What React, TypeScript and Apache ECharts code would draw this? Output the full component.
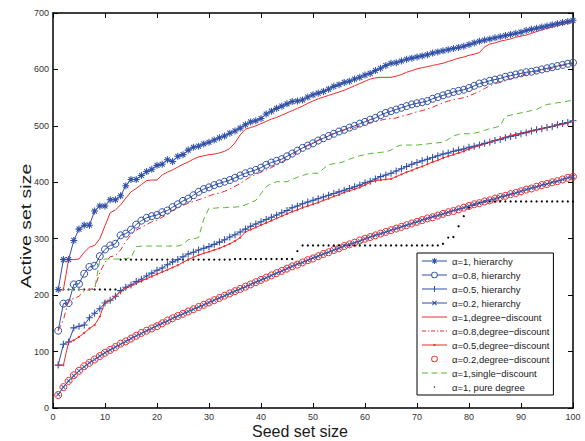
import React, { useEffect, useRef } from "react";
import * as echarts from "echarts";

// ---------- data ----------
const seeds = Array.from({ length: 100 }, (_, i) => i + 1);

const seriesNames = [
  "α=1, hierarchy",
  "α=0.8, hierarchy",
  "α=0.5, hierarchy",
  "α=0.2, hierarchy",
  "α=1,degree−discount",
  "α=0.8,degree−discount",
  "α=0.5,degree−discount",
  "α=0.2,degree−discount",
  "α=1,single−discount",
  "α=1, pure degree",
];

const xTicks = [0, 10, 20, 30, 40, 50, 60, 70, 80, 90, 100];
const yTicks = [0, 100, 200, 300, 400, 500, 600, 700];

const alpha1Hier = [
  210, 263, 263, 297, 317, 324, 324, 349, 358, 358,
  369, 369, 376, 394, 405, 405, 412, 419, 423, 430,
  432, 440, 437, 446, 449, 457, 462, 464, 468, 471,
  475, 479, 482, 487, 491, 496, 502, 507, 509, 513,
  521, 526, 531, 535, 539, 543, 544, 546, 551, 555,
  558, 561, 565, 570, 573, 577, 579, 583, 586, 590,
  593, 598, 602, 607, 611, 612, 615, 618, 620, 622,
  624, 626, 629, 631, 633, 635, 637, 639, 641, 644,
  647, 650, 652, 654, 656, 658, 660, 662, 664, 666,
  669, 671, 673, 675, 677, 679, 681, 683, 685, 687,
];

const alpha08Hier = [
  137, 185, 186, 219, 220, 238, 250, 252, 269, 281,
  288, 291, 306, 309, 316, 325, 332, 337, 340, 342,
  347, 350, 356, 361, 367, 371, 377, 383, 388, 391,
  395, 398, 401, 404, 408, 412, 416, 419, 422, 426,
  431, 435, 438, 441, 446, 451, 456, 461, 465, 469,
  474, 478, 482, 486, 490, 493, 497, 500, 504, 507,
  511, 514, 519, 523, 526, 529, 532, 535, 538, 540,
  542, 544, 548, 551, 554, 557, 560, 562, 564, 567,
  571, 575, 577, 580, 582, 584, 587, 589, 591, 593,
  595, 596, 598, 600, 602, 604, 606, 608, 610, 612,
];

const alpha05Hier = [
  76, 113, 117, 142, 145, 147, 160, 168, 176, 186,
  191, 198, 208, 214, 218, 224, 228, 234, 239, 244,
  248, 254, 259, 263, 268, 273, 276, 280, 283, 286,
  290, 294, 298, 303, 307, 312, 317, 322, 326, 330,
  334, 338, 342, 346, 350, 355, 358, 362, 365, 368,
  371, 374, 377, 380, 383, 386, 389, 392, 395, 399,
  402, 406, 410, 413, 416, 420, 424, 428, 432, 435,
  438, 441, 444, 447, 450, 452, 455, 457, 459, 462,
  464, 466, 469, 471, 474, 476, 479, 481, 483, 486,
  488, 491, 493, 495, 497, 499, 502, 504, 506, 509,
];

const alpha02Hier = [
  24, 37, 48, 57, 66, 73, 80, 86, 92, 98,
  103, 108, 113, 118, 123, 128, 132, 137, 141, 146,
  150, 154, 159, 163, 167, 171, 175, 179, 183, 187,
  191, 195, 199, 203, 207, 211, 215, 219, 223, 227,
  231, 235, 239, 243, 247, 251, 255, 258, 262, 266,
  269, 273, 276, 280, 283, 287, 290, 293, 296, 300,
  303, 306, 309, 312, 315, 318, 321, 324, 327, 330,
  333, 336, 339, 341, 344, 347, 350, 352, 355, 358,
  361, 363, 366, 368, 371, 374, 376, 379, 381, 384,
  387, 390, 392, 395, 397, 400, 402, 405, 408, 410,
];

const alpha1DD = [
  208, 210, 263, 263, 264, 276, 285, 288, 300, 323,
  346, 351, 360, 372, 383, 389, 396, 403, 404, 404,
  413, 418, 422, 427, 432, 436, 441, 445, 447, 449,
  450, 452, 455, 460, 470, 484, 494, 497, 500, 504,
  508, 512, 515, 519, 523, 527, 531, 535, 540, 544,
  548, 551, 554, 557, 560, 563, 567, 571, 575, 579,
  583, 585, 586, 586, 586, 588, 591, 595, 598, 601,
  603, 605, 607, 609, 611, 614, 617, 620, 622, 625,
  627, 630, 640, 645, 647, 650, 652, 654, 657, 659,
  661, 664, 667, 670, 673, 675, 678, 680, 682, 683,
];

const alpha08DD = [
  137, 156, 191, 194, 198, 207, 210, 212, 240, 258,
  268, 270, 280, 295, 307, 315, 320, 325, 330, 333,
  338, 344, 350, 355, 359, 363, 366, 369, 372, 376,
  379, 381, 384, 388, 393, 398, 404, 410, 414, 418,
  422, 426, 431, 436, 441, 448, 455, 461, 466, 470,
  475, 479, 483, 487, 490, 493, 495, 497, 500, 503,
  506, 508, 510, 512, 513, 514, 517, 519, 522, 525,
  527, 530, 533, 537, 541, 544, 546, 548, 550, 553,
  557, 561, 566, 571, 575, 577, 580, 583, 586, 589,
  592, 594, 596, 598, 600, 602, 605, 607, 609, 611,
];

const alpha05DD = [
  76, 76, 117, 120, 126, 133, 141, 147, 162, 188,
  190, 197, 206, 212, 217, 221, 225, 229, 233, 237,
  241, 245, 249, 253, 258, 263, 267, 271, 274, 277,
  280, 283, 287, 291, 296, 302, 312, 316, 320, 324,
  328, 332, 336, 340, 344, 348, 351, 355, 358, 361,
  364, 368, 371, 375, 378, 382, 385, 388, 391, 395,
  400, 403, 404, 405, 406, 410, 414, 418, 421, 425,
  428, 432, 436, 439, 443, 446, 449, 452, 455, 459,
  462, 465, 468, 471, 474, 477, 480, 483, 485, 487,
  489, 491, 493, 495, 497, 499, 501, 503, 505, 508,
];

const alpha02DD = [
  23, 37, 48, 58, 66, 74, 80, 86, 92, 98,
  103, 108, 114, 118, 123, 128, 133, 137, 141, 145,
  150, 155, 159, 163, 167, 171, 175, 179, 183, 187,
  191, 195, 199, 203, 207, 211, 215, 219, 223, 227,
  231, 235, 239, 243, 247, 251, 254, 258, 262, 265,
  269, 273, 276, 280, 283, 287, 290, 293, 297, 300,
  303, 306, 309, 312, 315, 318, 321, 324, 327, 330,
  333, 336, 338, 341, 344, 347, 349, 352, 355, 358,
  361, 363, 366, 368, 371, 374, 376, 379, 381, 384,
  387, 389, 392, 395, 397, 400, 402, 405, 408, 410,
];

const alpha1Single = [
  210, 210, 210, 210, 210, 210, 210, 210, 262, 264,
  264, 264, 264, 265, 266, 286, 287, 287, 287, 287,
  287, 287, 287, 287, 290, 298, 300, 302, 335, 354,
  354, 355, 355, 356, 356, 357, 360, 364, 368, 380,
  392, 398, 401, 401, 401, 405, 409, 412, 415, 416,
  416, 424, 431, 433, 434, 437, 441, 444, 447, 449,
  451, 452, 453, 454, 457, 463, 466, 466, 466, 466,
  467, 468, 469, 470, 471, 476, 482, 485, 486, 486,
  487, 489, 492, 495, 497, 500, 517, 519, 521, 523,
  525, 527, 529, 534, 538, 539, 541, 542, 544, 545,
];

const alpha1Pure = [
  210, 210, 210, 210, 210, 210, 210, 210, 210, 210,
  210, 210, 263, 263, 263, 263, 263, 263, 263, 263,
  263, 263, 263, 263, 263, 263, 263, 263, 263, 263,
  263, 263, 263, 263, 264, 264, 264, 264, 264, 264,
  264, 264, 264, 264, 264, 264, 278, 288, 288, 288,
  288, 288, 288, 288, 288, 288, 288, 288, 288, 288,
  288, 288, 288, 288, 288, 288, 288, 288, 288, 288,
  288, 288, 288, 288, 291, 302, 303, 322, 340, 355,
  360, 364, 366, 366, 366, 366, 366, 366, 366, 366,
  366, 366, 366, 366, 366, 366, 366, 366, 366, 366,
];

// ---------- styles ----------
const FONT = "'Liberation Sans', Arial, Helvetica, sans-serif";
const BLUE = "#2f4fa8";
const RED = "#f02a2a";
const GREEN = "#55b832";
const BLACK = "#000";

const STAR =
  "path://M0,4.25h10v1.5h-10z M4.25,0h1.5v10h-1.5z M2.03,0.97L9.03,7.97L7.97,9.03L0.97,2.03z M9.03,2.03L2.03,9.03L0.97,7.97L7.97,0.97z";
const PLUS = "path://M0,4.25h10v1.5h-10z M4.25,0h1.5v10h-1.5z";
const CROSS =
  "path://M2.03,0.97L9.03,7.97L7.97,9.03L0.97,2.03z M9.03,2.03L2.03,9.03L0.97,7.97L7.97,0.97z";

const A = "path://M0,0M25,10";
const LINE = "M0,4.5h25v1h-25z";
const DIAG =
  "M10.72,2.58L14.92,6.78L14.28,7.42L10.08,3.22z M14.92,3.22L10.72,7.42L10.08,6.78L14.28,2.58z";
const RING =
  "M9.2,5a3.3,3.3 0 1,0 6.6,0a3.3,3.3 0 1,0 -6.6,0z M10.1,5a2.4,2.4 0 1,1 4.8,0a2.4,2.4 0 1,1 -4.8,0z";
const legendIcons = [
  A + LINE + " M12,2h1v6h-1z " + DIAG,
  A + "M0,4.5h9.2v1h-9.2z M15.8,4.5h9.2v1h-9.2z " + RING,
  A + LINE + " M12,2h1v6h-1z",
  A + LINE + " " + DIAG,
  A + LINE,
  A + "M0,4.5h4v1h-4z M6,4.5h1.2v1h-1.2z M9,4.5h4v1h-4z M15,4.5h1.2v1h-1.2z M18,4.5h4v1h-4z M23.8,4.5h1.2v1h-1.2z",
  A + LINE + " M11.6,3.9h1.8v2.2h-1.8z",
  A + RING,
  A + "M0,4.5h6v1h-6z M9.5,4.5h6v1h-6z M19,4.5h6v1h-6z",
  A + "M11.9,4.4h1.2v1.2h-1.2z",
];
const legendColors = [BLUE, BLUE, BLUE, BLUE, RED, RED, RED, RED, GREEN, BLACK];

const xy = (vals: number[]) => vals.map((v, i) => [seeds[i], v]);

const axisCommon = {
  type: "value" as const,
  splitLine: { show: false },
  axisLine: { show: true, onZero: false, lineStyle: { color: "#000", width: 1.5 } },
  axisTick: { show: true, inside: true, length: 5, lineStyle: { color: "#000", width: 1 } },
};

const option: any = {
  animation: false,
  backgroundColor: "#fff",
  textStyle: { fontFamily: FONT },
  grid: { left: 53, right: 12, top: 13, bottom: 33, containLabel: false },
  xAxis: [
    {
      ...axisCommon,
      position: "bottom",
      min: xTicks[0],
      max: xTicks[xTicks.length - 1],
      interval: xTicks[1] - xTicks[0],
      axisLabel: { fontSize: 9, color: "#333", margin: 4, fontFamily: FONT },
    },
    {
      ...axisCommon,
      position: "top",
      min: xTicks[0],
      max: xTicks[xTicks.length - 1],
      interval: xTicks[1] - xTicks[0],
      axisLabel: { show: false },
    },
  ],
  yAxis: [
    {
      ...axisCommon,
      position: "left",
      min: yTicks[0],
      max: yTicks[yTicks.length - 1],
      interval: yTicks[1] - yTicks[0],
      axisLabel: { fontSize: 9, color: "#333", margin: 4, fontFamily: FONT },
    },
    {
      ...axisCommon,
      position: "right",
      min: yTicks[0],
      max: yTicks[yTicks.length - 1],
      interval: yTicks[1] - yTicks[0],
      axisLabel: { show: false },
    },
  ],
  legend: {
    orient: "vertical",
    left: 417,
    top: 253,
    itemWidth: 25,
    itemHeight: 10,
    itemGap: 4,
    padding: [3, 4, 3, 5],
    backgroundColor: "#fff",
    borderColor: "#000",
    borderWidth: 1,
    selectedMode: false,
    textStyle: { fontSize: 9.5, lineHeight: 10, color: "#1a1a1a", fontFamily: FONT },
    data: seriesNames.map((n, i) => ({
      name: n,
      icon: legendIcons[i],
      itemStyle: { color: legendColors[i], borderColor: legendColors[i], borderWidth: 0, opacity: 1 },
    })),
  },
  series: [
    {
      name: seriesNames[0], type: "line", data: xy(alpha1Hier),
      symbol: STAR, symbolSize: 7, showAllSymbol: true,
      lineStyle: { color: BLUE, width: 1 }, itemStyle: { color: BLUE },
    },
    {
      name: seriesNames[1], type: "line", data: xy(alpha08Hier),
      symbol: "circle", symbolSize: 7, showAllSymbol: true,
      lineStyle: { color: BLUE, width: 1 },
      itemStyle: { color: "rgba(255,255,255,0)", borderColor: BLUE, borderWidth: 1 },
    },
    {
      name: seriesNames[2], type: "line", data: xy(alpha05Hier),
      symbol: PLUS, symbolSize: 7, showAllSymbol: true,
      lineStyle: { color: BLUE, width: 1 }, itemStyle: { color: BLUE },
    },
    {
      name: seriesNames[3], type: "line", data: xy(alpha02Hier),
      symbol: CROSS, symbolSize: 4.5, showAllSymbol: true,
      lineStyle: { color: BLUE, width: 1 }, itemStyle: { color: BLUE },
    },
    {
      name: seriesNames[4], type: "line", data: xy(alpha1DD),
      symbol: "none",
      lineStyle: { color: RED, width: 1 }, itemStyle: { color: RED },
    },
    {
      name: seriesNames[5], type: "line", data: xy(alpha08DD),
      symbol: "none",
      lineStyle: { color: RED, width: 1, type: [6, 3, 1.5, 3] }, itemStyle: { color: RED },
    },
    {
      name: seriesNames[6], type: "line", data: xy(alpha05DD),
      symbol: "circle", symbolSize: 2, showAllSymbol: true,
      lineStyle: { color: RED, width: 1 }, itemStyle: { color: RED },
    },
    {
      name: seriesNames[7], type: "scatter", data: xy(alpha02DD),
      symbol: "circle", symbolSize: 7,
      itemStyle: { color: "rgba(255,255,255,0)", borderColor: RED, borderWidth: 1, opacity: 1 },
    },
    {
      name: seriesNames[8], type: "line", data: xy(alpha1Single),
      symbol: "none",
      lineStyle: { color: GREEN, width: 1, type: [6, 4] }, itemStyle: { color: GREEN },
    },
    {
      name: seriesNames[9], type: "scatter", data: xy(alpha1Pure),
      symbol: "circle", symbolSize: 2.2,
      itemStyle: { color: BLACK, opacity: 1 },
    },
  ],
  graphic: [
    {
      type: "text",
      x: 300,
      y: 431,
      scaleY: 1.05,
      style: {
        text: "Seed set size",
        fontSize: 16,
        fontFamily: FONT,
        fill: "#1a1a1a",
        align: "center",
        verticalAlign: "middle",
      },
    },
    {
      type: "text",
      x: 26,
      y: 226,
      rotation: Math.PI / 2,
      scaleX: 1.3,
      style: {
        text: "Active set size",
        fontSize: 15,
        fontFamily: FONT,
        fill: "#1a1a1a",
        align: "center",
        verticalAlign: "middle",
      },
    },
  ],
};

export default function App() {
  const ref = useRef<HTMLDivElement>(null);
  useEffect(() => {
    if (!ref.current) return;
    const chart = echarts.init(ref.current, null, { renderer: "svg" });
    chart.setOption(option);
    return () => chart.dispose();
  }, []);
  return (
    <div
      ref={ref}
      style={{ position: "absolute", left: 0, top: 0, width: 585, height: 441 }}
    />
  );
}
